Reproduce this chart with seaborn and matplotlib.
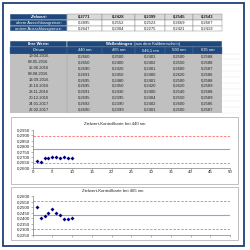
import matplotlib
matplotlib.use("Agg")
import matplotlib.pyplot as plt
import seaborn as sns
import pandas as pd
from matplotlib.patches import Rectangle
from matplotlib.ticker import FuncFormatter, MultipleLocator

# ---------------- data ----------------
wavelengths = ["440 nm", "465 nm", "546,1 nm", "590 nm", "635 nm"]
target = [0.2771, 0.2428, 0.2399, 0.2545, 0.2543]
upper = [0.2895, 0.2552, 0.2523, 0.2669, 0.2667]
lower = [0.2647, 0.2304, 0.2275, 0.2421, 0.2419]
dates = ["19.04.2016", "09.05.2016", "25.06.2016", "09.08.2016", "13.09.2016",
         "26.10.2016", "28.11.2016", "20.12.2016", "24.01.2017", "22.02.2017"]
v440 = [0.2660, 0.2650, 0.2690, 0.2691, 0.2695, 0.2695, 0.2691, 0.2695, 0.2692, 0.2690]
v465 = [0.2500, 0.2400, 0.2420, 0.2450, 0.2480, 0.2450, 0.2430, 0.2395, 0.2390, 0.2399]
v546 = [0.2401, 0.2402, 0.2401, 0.2400, 0.2401, 0.2420, 0.2400, 0.2404, 0.2402, 0.2401]
v590 = [0.2500, 0.2550, 0.2600, 0.2620, 0.2500, 0.2620, 0.2540, 0.2550, 0.2600, 0.2500]
v635 = [0.2588, 0.2588, 0.2587, 0.2586, 0.2588, 0.2589, 0.2588, 0.2589, 0.2586, 0.2587]
row_labels = ["Zielwert:", "obere Ausschlussgrenze:", "untere Ausschlussgrenze:"]

sns.set_theme(style="white")
plt.rcParams["font.family"] = ["Liberation Sans", "DejaVu Sans"]

BLUE = "#1F497D"
NAVY = "#1F3F7A"
GRAY = "#C0C0C0"
LGRAY = "#D9D9D9"
fmt = lambda v: f"{v:.4f}".replace(".", ",")

fig = plt.figure(figsize=(2.5, 2.5), dpi=100)
fig.patch.set_facecolor("white")
bg = fig.add_axes([0, 0, 1, 1])
bg.set_xlim(0, 250)
bg.set_ylim(250, 0)
bg.axis("off")

# page frame
bg.add_patch(Rectangle((2.5, 2.5), 241, 243.5, fill=False, edgecolor=NAVY, lw=1.3))

cols = [10, 67, 102, 135, 165, 193, 222]
FS = 3.0

# ---------- table 1 ----------
rows1 = [14, 19.7, 25.6, 31.5]
for r in range(3):
    y0, y1 = rows1[r], rows1[r + 1]
    bg.add_patch(Rectangle((cols[0], y0), cols[1] - cols[0], y1 - y0,
                           facecolor=BLUE, edgecolor="white", lw=0.3))
    bg.text((cols[0] + cols[1]) / 2, (y0 + y1) / 2, row_labels[r], color="white",
            fontsize=FS, ha="center", va="center",
            fontweight="bold" if r == 0 else "normal", style="italic" if r == 0 else "normal")
    vals = [target, upper, lower][r]
    for c in range(5):
        bg.add_patch(Rectangle((cols[c + 1], y0), cols[c + 2] - cols[c + 1], y1 - y0,
                               facecolor=LGRAY if r == 0 else "white",
                               edgecolor="#7F7F7F", lw=0.3))
        bg.text((cols[c + 1] + cols[c + 2]) / 2, (y0 + y1) / 2, fmt(vals[c]),
                fontsize=FS, ha="center", va="center", color="#222222",
                fontweight="bold" if r == 0 else "normal")

# ---------- table 2 ----------
ya, yb, yc = 40.5, 47, 53.5
rh = 5.9
bg.add_patch(Rectangle((cols[0], ya), cols[1] - cols[0], yb - ya, facecolor=BLUE, edgecolor="white", lw=0.3))
bg.add_patch(Rectangle((cols[1], ya), cols[6] - cols[1], yb - ya, facecolor=BLUE, edgecolor="white", lw=0.3))
bg.text((cols[0] + cols[1]) / 2, (ya + yb) / 2, "Ihre Werte:", color="white", fontsize=FS,
        ha="center", va="center", fontweight="bold")
bg.text((cols[1] + cols[6]) / 2 - 12, (ya + yb) / 2, "Wellenlängen", color="white", fontsize=FS,
        ha="right", va="center", fontweight="bold")
bg.text((cols[1] + cols[6]) / 2 - 11, (ya + yb) / 2, "(aus dem Kalibrierschein)", color="white",
        fontsize=FS, ha="left", va="center")
heads = ["Datum"] + wavelengths
for c in range(6):
    bg.add_patch(Rectangle((cols[c], yb), cols[c + 1] - cols[c], yc - yb,
                           facecolor=BLUE, edgecolor="#4F6FA0", lw=0.3))
    bg.text((cols[c] + cols[c + 1]) / 2, (yb + yc) / 2, heads[c], color="white",
            fontsize=FS, ha="center", va="center")
bg.add_patch(Rectangle((cols[0], yc), cols[6] - cols[0], rh * 10, facecolor=GRAY, edgecolor="none"))
bg.plot([cols[1], cols[1]], [yc, yc + rh * 10], color="#A0A0A0", lw=0.3)
table_cols = [v440, v465, v546, v590, v635]
for i in range(10):
    yy = yc + rh * (i + 0.5)
    bg.text((cols[0] + cols[1]) / 2, yy, dates[i], fontsize=FS, ha="center", va="center", color="#222222")
    for c in range(5):
        bg.text((cols[c + 1] + cols[c + 2]) / 2, yy, fmt(table_cols[c][i]), fontsize=FS,
                ha="center", va="center", color="#222222")
# faint sheet gridlines right of the table
for i in range(11):
    y = yc + rh * i
    bg.plot([cols[6], 241], [y, y], color="#E6E6E6", lw=0.3)

# ---------- chart boxes ----------
bg.add_patch(Rectangle((11, 117), 227, 67, facecolor="white", edgecolor="#A6A6A6", lw=0.5))
bg.add_patch(Rectangle((11, 187), 227, 53, facecolor="white", edgecolor="#A6A6A6", lw=0.5))
bg.text(115, 124.3, "Zielwert-Kontrollkarte bei 440 nm", fontsize=3.1, ha="center", va="center")
bg.text(113, 190.5, "Zielwert-Kontrollkarte bei 465 nm", fontsize=3.1, ha="center", va="center")


def px_rect(x0, x1, ytop, ybot):
    return [x0 / 250, 1 - ybot / 250, (x1 - x0) / 250, (ybot - ytop) / 250]


def control_chart(rect, values, tgt, up, lo, ymin, ymax, show_xlabels):
    ax = fig.add_axes(rect)
    ax.patch.set_alpha(0)
    df = pd.DataFrame({"n": list(range(1, len(values) + 1)), "v": values})
    ax.axhline(up, color="#FF8080", lw=0.7, ls=(0, (2.5, 1.5)))
    ax.axhline(lo, color="#FF8080", lw=0.7, ls=(0, (2.5, 1.5)))
    ax.axhline(tgt, color="#9999EE", lw=0.8)
    sns.scatterplot(data=df, x="n", y="v", ax=ax, marker="D", color="#000080",
                    s=4, linewidth=0, zorder=5)
    ax.set_xlim(0, 50)
    ax.set_ylim(ymin, ymax)
    ax.xaxis.set_major_locator(MultipleLocator(5))
    ax.yaxis.set_major_locator(MultipleLocator(0.005))
    ax.yaxis.set_major_formatter(FuncFormatter(lambda v, p: fmt(v)))
    ax.set_xlabel("")
    ax.set_ylabel("")
    for s in ["top", "right"]:
        ax.spines[s].set_visible(False)
    for s in ["left", "bottom"]:
        ax.spines[s].set_color("#808080")
        ax.spines[s].set_linewidth(0.5)
    ax.tick_params(axis="both", which="both", length=1.2, width=0.4, color="#808080",
                   labelsize=3.2, pad=0.8, direction="out", bottom=True, left=True,
                   labelcolor="#222222")
    if not show_xlabels:
        ax.tick_params(axis="x", labelbottom=False)
    return ax


control_chart(px_rect(32.7, 230, 130, 167.7), v440, target[0], upper[0], lower[0],
              0.26, 0.295, True)
control_chart(px_rect(32.7, 230, 196, 235), v465, target[1], upper[1], lower[1],
              0.225, 0.26, False)

fig.savefig("out.png", dpi=100, facecolor="white")
